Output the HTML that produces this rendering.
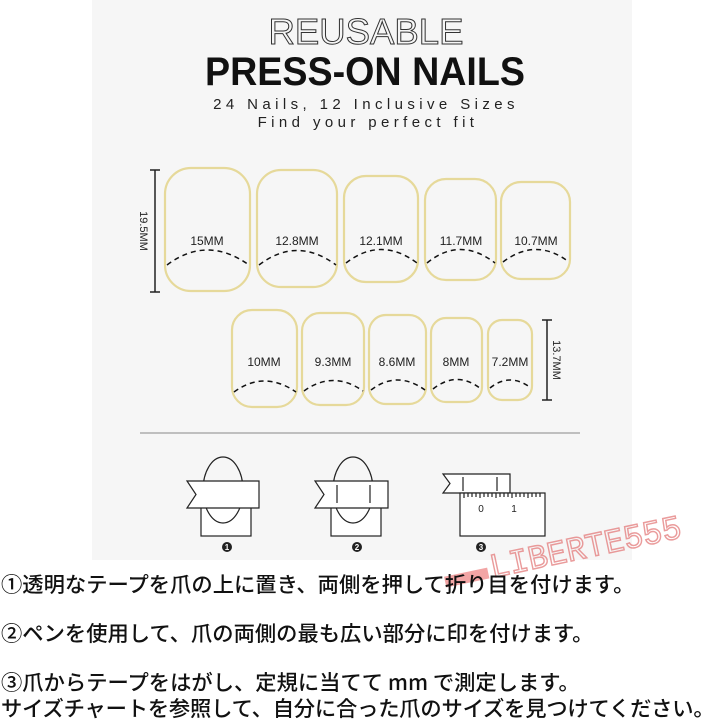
<!DOCTYPE html>
<html><head><meta charset="utf-8"><style>
body{margin:0;width:720px;height:722px;background:#fff;position:relative;overflow:hidden;font-family:"Liberation Sans","Noto Sans CJK JP",sans-serif}
.panel{position:absolute;left:92px;top:0;width:540px;height:560px;background:#f6f6f6}
.jp{position:absolute;left:1px;font-size:21.3px;color:#111;font-family:"Noto Sans CJK JP",sans-serif;white-space:nowrap;font-weight:500}
</style></head><body>
<div class="panel"></div>
<svg width="720" height="722" style="position:absolute;left:0;top:0" font-family="Liberation Sans, sans-serif">
<text x="366" y="44" text-anchor="middle" font-size="36" fill="none" stroke="#333" stroke-width="1" textLength="195" lengthAdjust="spacingAndGlyphs">REUSABLE</text>
<text x="365" y="85" text-anchor="middle" font-size="40" font-weight="bold" fill="#111" textLength="320" lengthAdjust="spacingAndGlyphs">PRESS-ON NAILS</text>
<text x="366" y="109" text-anchor="middle" font-size="15" fill="#222" letter-spacing="4.4">24 Nails, 12 Inclusive Sizes</text>
<text x="368" y="127" text-anchor="middle" font-size="15" fill="#222" letter-spacing="4.4">Find your perfect fit</text>
<g fill="none" stroke="#e6d99a" stroke-width="2.2">
<rect x="165" y="168" width="85" height="123" rx="26"/>
<rect x="257" y="170" width="80" height="117" rx="24"/>
<rect x="344" y="176" width="74" height="106" rx="22"/>
<rect x="425" y="179" width="71" height="101" rx="21"/>
<rect x="501" y="182" width="69" height="97" rx="20"/>
<rect x="232" y="310" width="65" height="97" rx="20"/>
<rect x="302" y="313" width="62" height="92" rx="18"/>
<rect x="369" y="315" width="57" height="89" rx="17"/>
<rect x="431" y="318" width="51" height="84" rx="15"/>
<rect x="488" y="320" width="44" height="80" rx="14"/>
</g>
<g fill="none" stroke="#111" stroke-width="1.5" stroke-dasharray="5,4">
<path d="M167 265 Q207 235 249 265"/>
<path d="M259 265 Q297 236 336 265"/>
<path d="M346 263 Q381 236 417 263"/>
<path d="M427 263 Q460 236 495 263"/>
<path d="M503 262 Q536 237 569 262"/>
<path d="M234 392 Q264 370 296 392"/>
<path d="M304 391 Q333 370 363 391"/>
<path d="M371 390 Q397 370 425 390"/>
<path d="M433 389 Q457 370 481 389"/>
<path d="M490 388 Q510 372 531 388"/>
</g>
<g font-size="12" fill="#222" text-anchor="middle">
<text x="207" y="245">15MM</text><text x="297" y="245">12.8MM</text><text x="381" y="245">12.1MM</text>
<text x="461" y="245">11.7MM</text><text x="536" y="245">10.7MM</text>
<text x="264" y="366">10MM</text><text x="333" y="366">9.3MM</text><text x="397" y="366">8.6MM</text>
<text x="456" y="366">8MM</text><text x="510" y="366">7.2MM</text>
</g>
<g stroke="#222" stroke-width="1.5">
<line x1="155" y1="170" x2="155" y2="292"/><line x1="150" y1="170" x2="160" y2="170"/><line x1="150" y1="292" x2="160" y2="292"/>
<line x1="547" y1="320" x2="547" y2="400"/><line x1="542" y1="320" x2="552" y2="320"/><line x1="542" y1="400" x2="552" y2="400"/>
</g>
<text transform="translate(140,231) rotate(90)" text-anchor="middle" font-size="11" fill="#222">19.5MM</text>
<text transform="translate(553,360) rotate(90)" text-anchor="middle" font-size="11" fill="#222">13.7MM</text>
<line x1="140" y1="433" x2="580" y2="433" stroke="#888" stroke-width="1"/>
<g fill="none" stroke="#222" stroke-width="1.2">
<rect x="201" y="500" width="50" height="36" fill="#fff"/>
<ellipse cx="223" cy="490" rx="20" ry="33"/>
<path d="M187 481H259V508H187L196 494.5Z" fill="#fff"/>
<rect x="331" y="500" width="50" height="36" fill="#fff"/>
<ellipse cx="353" cy="490" rx="20" ry="33"/>
<path d="M315 481H388V508H315L324 494.5Z" fill="#fff"/>
<line x1="337" y1="485" x2="337" y2="503"/><line x1="370" y1="485" x2="370" y2="503"/>
<path d="M443 474H510V493H443L450 483.5Z" fill="#fff"/>
<line x1="463" y1="477" x2="463" y2="491"/><line x1="497" y1="477" x2="497" y2="491"/>
<rect x="460" y="493" width="85" height="43" fill="#fff"/>
<path d="M464 493v5M468 493v4M472 493v4M476 493v4M480 493v5M484 493v4M488 493v4M492 493v4M496 493v5M500 493v4M504 493v4M508 493v4M512 493v5M516 493v4M520 493v4M524 493v4M528 493v5M532 493v4M536 493v4M540 493v4"/>
</g>
<text x="481" y="512" font-size="10" fill="#222" text-anchor="middle">0</text>
<text x="514" y="512" font-size="10" fill="#222" text-anchor="middle">1</text>
<g fill="#222"><circle cx="227" cy="547" r="5"/><circle cx="357" cy="547" r="5"/><circle cx="481" cy="547" r="5"/></g>
<g fill="#fff" font-size="8" text-anchor="middle" font-weight="bold"><text x="227" y="550">1</text><text x="357" y="550">2</text><text x="481" y="550">3</text></g>
<g transform="rotate(-12 560 545)" opacity="0.75">
<rect x="440" y="552" width="44" height="11" fill="#e88"/>
<text x="487" y="563" font-size="34" fill="none" stroke="#e47b7b" stroke-width="1.5" font-family="Liberation Mono, monospace" textLength="195" lengthAdjust="spacingAndGlyphs">LIBERTE555</text>
</g>
</svg>
<div class="jp" style="top:568px">①透明なテープを爪の上に置き、両側を押して折り目を付けます。</div>
<div class="jp" style="top:617px">②ペンを使用して、爪の両側の最も広い部分に印を付けます。</div>
<div class="jp" style="top:666px">③爪からテープをはがし、定規に当てて mm で測定します。</div>
<div class="jp" style="top:692px;letter-spacing:-0.2px">サイズチャートを参照して、自分に合った爪のサイズを見つけてください。</div>
</body></html>
